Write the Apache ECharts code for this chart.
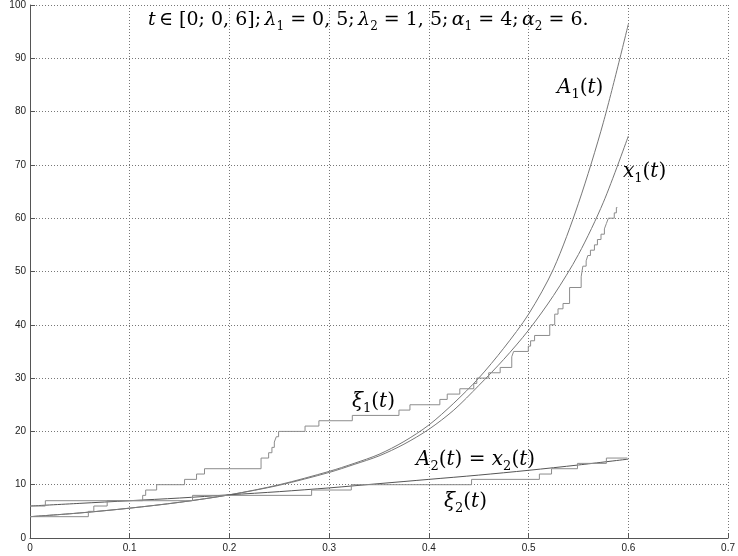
<!DOCTYPE html>
<html><head><meta charset="utf-8">
<script src="https://cdn.jsdelivr.net/npm/echarts@6/dist/echarts.min.js"></script>
<style>html,body{margin:0;padding:0;background:#fff}#c{width:738px;height:556px}</style>
</head><body><div id="c"></div>
<script>
// x-axis ticks and y-axis ticks
const xTicks = [0, 0.1, 0.2, 0.3, 0.4, 0.5, 0.6, 0.7];
const yTicks = [0, 10, 20, 30, 40, 50, 60, 70, 80, 90, 100];

// smooth curves A1(t), x1(t)
const tA = [0, 0.05, 0.1, 0.15, 0.2, 0.25, 0.3, 0.325, 0.35, 0.375, 0.4, 0.425, 0.45, 0.475, 0.5, 0.525, 0.55, 0.575, 0.6];
const A1 = [4.0, 4.7, 5.6, 6.7, 8.1, 10.0, 12.5, 14.0, 15.7, 18.1, 21.2, 25.3, 30.0, 35.6, 42.0, 50.5, 62.8, 78.0, 96.4];
const X1 = [4.0, 4.7, 5.6, 6.7, 8.1, 9.9, 12.3, 13.8, 15.4, 17.6, 20.4, 24.0, 28.6, 33.5, 39.0, 45.5, 53.2, 63.0, 75.4];

// A2(t) = x2(t)
const tB = [0, 0.05, 0.1, 0.15, 0.2, 0.25, 0.3, 0.35, 0.4, 0.45, 0.5, 0.55, 0.6];
const A2 = [6.0, 6.5, 7.0, 7.5, 8.1, 8.7, 9.4, 10.2, 11.0, 11.8, 12.7, 13.7, 14.8];

// xi1(t): jump times and new values
const xi1T = [0, 0.0585, 0.064, 0.0774, 0.113, 0.116, 0.127, 0.155, 0.167, 0.175, 0.2317, 0.2393, 0.2426, 0.245, 0.247, 0.2493, 0.2758, 0.2897, 0.3232, 0.370, 0.381, 0.411, 0.4184, 0.431, 0.445, 0.448, 0.46, 0.4715, 0.4831, 0.485, 0.4997, 0.502, 0.506, 0.5212, 0.5262, 0.5295, 0.5345, 0.5411, 0.5527, 0.5544, 0.5577, 0.5594, 0.562, 0.566, 0.569, 0.5726, 0.576, 0.578, 0.580, 0.5859, 0.588, 0.589];
const xi1V = [4, 5, 6, 7, 8, 9, 10, 11, 12, 13, 15, 16, 17, 18, 19, 20, 21, 22, 23, 24, 25, 26, 27, 28, 29, 30, 31, 32, 34, 35, 36, 37, 38, 40, 42, 43, 44, 47, 49, 51, 52, 53, 54, 55, 56, 57, 58, 59, 60, 61, 62, 62];

// xi2(t)
const xi2T = [0, 0.0154, 0.163, 0.2824, 0.3222, 0.4428, 0.5108, 0.523, 0.549, 0.578, 0.599];
const xi2V = [6, 7, 8, 9, 10, 11, 12, 13, 14, 15, 15];

const zip = (a, b) => a.map((v, i) => [v, b[i]]);

const chart = echarts.init(document.getElementById('c'), null, {renderer: 'canvas'});

const curveColor = '#777777';
const stepColor = '#8c8c8c';

const axisCommon = {
  axisLine: {show: true, onZero: false, lineStyle: {color: '#555', width: 1}},
  axisTick: {show: true, inside: true, length: 5, lineStyle: {color: '#555'}},
  splitLine: {show: true, lineStyle: {type: [1, 2], color: '#777', width: 1}},
  axisLabel: {color: '#222', fontSize: 10, fontFamily: 'Liberation Sans, Arial, sans-serif'}
};

const serif = 'DejaVu Serif, serif';
function makeRich(size) {
  return {
    i: {fontFamily: serif, fontStyle: 'italic', fontSize: size, lineHeight: size + 6, color: '#000'},
    n: {fontFamily: serif, fontSize: size, lineHeight: size + 6, color: '#000'},
    s: {fontFamily: serif, fontSize: Math.round(size * 0.65), lineHeight: Math.round(size * 0.65), verticalAlign: 'bottom', color: '#000'}
  };
}

function label(text, x, y, size) {
  return {type: 'text', x: x, y: y, z: 100,
    style: {text: text, rich: makeRich(size), align: 'left', verticalAlign: 'middle', fill: '#000'}};
}

chart.setOption({
  animation: false,
  backgroundColor: '#fff',
  grid: {left: 30, right: 5, top: 5, bottom: 18, containLabel: false},
  xAxis: Object.assign({}, axisCommon, {
    type: 'value', min: xTicks[0], max: xTicks[xTicks.length - 1], interval: 0.1,
    axisLabel: Object.assign({}, axisCommon.axisLabel, {margin: 5,
      formatter: v => (Math.round(v * 10) / 10).toString()})
  }),
  yAxis: Object.assign({}, axisCommon, {
    type: 'value', min: yTicks[0], max: yTicks[yTicks.length - 1], interval: 10,
    axisLabel: Object.assign({}, axisCommon.axisLabel, {margin: 4})
  }),
  series: [
    {name: 'A1', type: 'line', data: zip(tA, A1), smooth: 0.3, showSymbol: false,
     lineStyle: {color: curveColor, width: 1}},
    {name: 'x1', type: 'line', data: zip(tA, X1), smooth: 0.3, showSymbol: false,
     lineStyle: {color: curveColor, width: 1}},
    {name: 'A2', type: 'line', data: zip(tB, A2), smooth: 0.3, showSymbol: false,
     lineStyle: {color: '#555', width: 1}},
    {name: 'xi1', type: 'line', data: zip(xi1T, xi1V), step: 'end', showSymbol: false,
     lineStyle: {color: stepColor, width: 1}},
    {name: 'xi2', type: 'line', data: zip(xi2T, xi2V), step: 'end', showSymbol: false,
     lineStyle: {color: stepColor, width: 1}}
  ],
  graphic: [
    label('{i|t} {n|∈ [0; 0, 6];} {i|λ}{s|1}{n| = 0, 5;} {i|λ}{s|2}{n| = 1, 5;} {i|α}{s|1}{n| = 4;} {i|α}{s|2}{n| = 6.}', 148, 20, 19),
    label('{i|A}{s|1}{n|(}{i|t}{n|)}', 557, 88, 20),
    label('{i|x}{s|1}{n|(}{i|t}{n|)}', 623, 172, 20),
    label('{i|ξ}{s|1}{n|(}{i|t}{n|)}', 352, 402, 20),
    label('{i|A}{s|2}{n|(}{i|t}{n|) = }{i|x}{s|2}{n|(}{i|t}{n|)}', 416, 460, 20),
    label('{i|ξ}{s|2}{n|(}{i|t}{n|)}', 444, 502, 20)
  ]
});
</script>
</body></html>
